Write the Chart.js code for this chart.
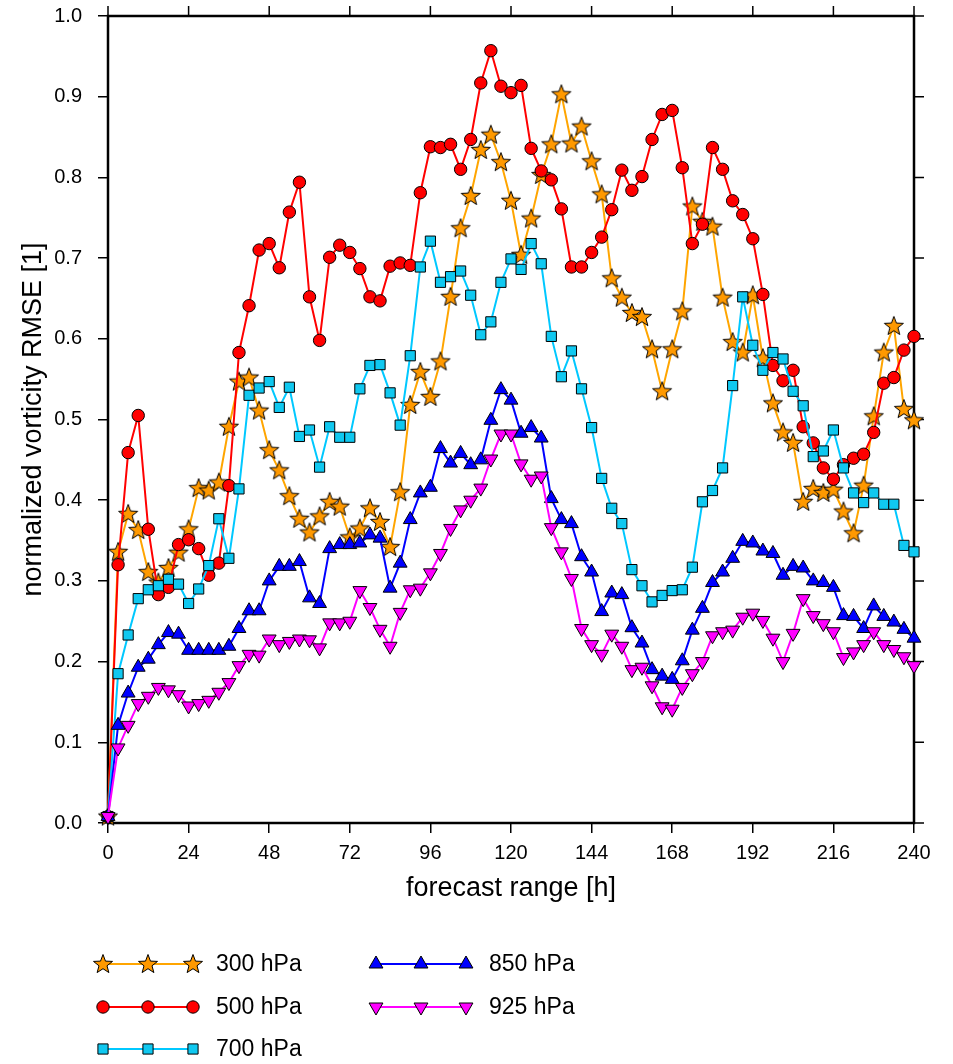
<!DOCTYPE html>
<html><head><meta charset="utf-8">
<script src="https://cdn.jsdelivr.net/npm/chart.js@4.4.1/dist/chart.umd.min.js"></script>
<style>html,body{margin:0;padding:0;background:#fff}#wrap{width:953px;height:1064px;position:relative}</style>
</head><body><div id="wrap"><canvas id="c" width="953" height="1064"></canvas></div>
<script>
const hours = [0,3,6,9,12,15,18,21,24,27,30,33,36,39,42,45,48,51,54,57,60,63,66,69,72,75,78,81,84,87,90,93,96,99,102,105,108,111,114,117,120,123,126,129,132,135,138,141,144,147,150,153,156,159,162,165,168,171,174,177,180,183,186,189,192,195,198,201,204,207,210,213,216,219,222,225,228,231,234,237,240];
const xTickValues = [0,24,48,72,96,120,144,168,192,216,240];
const yTickLabels = ['0.0','0.1','0.2','0.3','0.4','0.5','0.6','0.7','0.8','0.9','1.0'];
const seriesNames = ['300 hPa','500 hPa','700 hPa','850 hPa','925 hPa'];

const v300 = [0.008,0.336,0.383,0.363,0.311,0.298,0.316,0.335,0.364,0.415,0.412,0.422,0.491,0.547,0.552,0.511,0.462,0.437,0.405,0.377,0.360,0.380,0.398,0.392,0.354,0.365,0.390,0.373,0.342,0.410,0.518,0.559,0.528,0.572,0.652,0.737,0.777,0.834,0.853,0.819,0.771,0.704,0.749,0.803,0.841,0.903,0.842,0.863,0.820,0.779,0.675,0.651,0.632,0.627,0.587,0.535,0.587,0.634,0.764,0.745,0.739,0.651,0.596,0.583,0.654,0.576,0.520,0.484,0.471,0.398,0.414,0.409,0.413,0.386,0.359,0.418,0.504,0.583,0.616,0.513,0.499];
const v500 = [0.008,0.320,0.459,0.505,0.364,0.283,0.292,0.345,0.351,0.340,0.307,0.322,0.418,0.583,0.641,0.710,0.718,0.688,0.757,0.794,0.652,0.598,0.701,0.716,0.707,0.687,0.652,0.647,0.690,0.694,0.691,0.781,0.838,0.837,0.841,0.810,0.847,0.917,0.957,0.913,0.905,0.914,0.836,0.808,0.797,0.761,0.689,0.689,0.707,0.726,0.760,0.809,0.784,0.801,0.847,0.878,0.883,0.812,0.718,0.742,0.837,0.810,0.771,0.754,0.724,0.655,0.567,0.548,0.561,0.491,0.471,0.440,0.426,0.444,0.452,0.457,0.484,0.545,0.552,0.586,0.603];
const v700 = [0.008,0.185,0.233,0.278,0.289,0.294,0.302,0.296,0.272,0.290,0.319,0.377,0.328,0.414,0.530,0.539,0.547,0.515,0.540,0.479,0.487,0.441,0.491,0.478,0.478,0.538,0.567,0.568,0.533,0.493,0.579,0.689,0.721,0.670,0.677,0.684,0.654,0.605,0.621,0.670,0.699,0.686,0.718,0.693,0.603,0.553,0.585,0.538,0.490,0.427,0.390,0.371,0.314,0.294,0.274,0.282,0.288,0.289,0.317,0.398,0.412,0.440,0.542,0.652,0.592,0.561,0.583,0.575,0.535,0.517,0.454,0.461,0.487,0.440,0.409,0.397,0.409,0.395,0.395,0.344,0.336];
const v850 = [0.008,0.121,0.161,0.193,0.203,0.221,0.236,0.234,0.214,0.214,0.214,0.214,0.219,0.241,0.263,0.263,0.300,0.318,0.318,0.324,0.279,0.272,0.340,0.345,0.345,0.347,0.357,0.353,0.291,0.322,0.376,0.409,0.416,0.464,0.446,0.458,0.444,0.450,0.499,0.537,0.524,0.483,0.490,0.477,0.402,0.376,0.371,0.330,0.311,0.262,0.285,0.283,0.242,0.223,0.190,0.182,0.178,0.201,0.239,0.266,0.298,0.311,0.328,0.349,0.347,0.337,0.334,0.307,0.318,0.316,0.300,0.298,0.292,0.257,0.256,0.241,0.269,0.256,0.249,0.240,0.229];
const v925 = [0.008,0.093,0.121,0.148,0.157,0.168,0.165,0.159,0.145,0.148,0.152,0.162,0.174,0.195,0.209,0.208,0.228,0.221,0.225,0.228,0.227,0.217,0.248,0.248,0.250,0.288,0.267,0.240,0.219,0.261,0.289,0.291,0.310,0.334,0.365,0.388,0.400,0.415,0.451,0.482,0.482,0.445,0.426,0.430,0.366,0.336,0.303,0.241,0.221,0.209,0.234,0.219,0.190,0.193,0.170,0.144,0.141,0.168,0.185,0.200,0.232,0.237,0.239,0.255,0.260,0.251,0.229,0.200,0.235,0.278,0.257,0.247,0.237,0.205,0.212,0.221,0.237,0.221,0.215,0.206,0.195];

const FONT = "'Liberation Sans', Arial, Helvetica, sans-serif";

function makeStar(R, fill) {
  const size = Math.ceil(2 * R + 4);
  const c = document.createElement('canvas');
  c.width = size; c.height = size;
  const g = c.getContext('2d');
  const cx = size / 2, cy = size / 2 + R * 0.05;
  g.beginPath();
  for (let k = 0; k < 10; k++) {
    const r = (k % 2) ? R * 0.42 : R;
    const a = -Math.PI / 2 + k * Math.PI / 5;
    g.lineTo(cx + r * Math.cos(a), cy + r * Math.sin(a));
  }
  g.closePath();
  g.fillStyle = fill; g.fill();
  g.lineWidth = 1; g.strokeStyle = '#000'; g.stroke();
  return c;
}
const starImg = makeStar(10, '#FF9900');

const pts = arr => hours.map((h, i) => ({x: h, y: arr[i]}));

function ds(label, arr, line, fill, style, radius, rot, order) {
  return {
    label, data: pts(arr), borderColor: line, backgroundColor: fill,
    borderWidth: 2, pointStyle: style, pointRadius: radius, pointRotation: rot,
    pointBackgroundColor: fill, pointBorderColor: '#000', pointBorderWidth: 1,
    tension: 0, clip: false, order
  };
}

const datasets = [
  ds(seriesNames[0], v300, '#FFA500', '#FF9900', starImg, 9, 0, 5),
  ds(seriesNames[1], v500, '#FF0000', '#FF0000', 'circle', 6.2, 0, 4),
  ds(seriesNames[2], v700, '#00C8FF', '#10C8F0', 'rect', 7.2, 0, 3),
  ds(seriesNames[3], v850, '#0000FF', '#0000FF', 'triangle', 8, 0, 2),
  ds(seriesNames[4], v925, '#FF00FF', '#FF00FF', 'triangle', 8, 180, 1)
];

const framePlugin = {
  id: 'frame',
  beforeDatasetsDraw(chart) {
    const {ctx, chartArea: a, scales} = chart;
    ctx.save();
    ctx.strokeStyle = '#000';
    ctx.lineWidth = 1.5;
    ctx.beginPath();
    xTickValues.forEach(v => {
      const x = scales.x.getPixelForValue(v);
      ctx.moveTo(x, a.top); ctx.lineTo(x, a.top - 10);
    });
    yTickLabels.forEach(t => {
      const y = scales.y.getPixelForValue(parseFloat(t));
      ctx.moveTo(a.right, y); ctx.lineTo(a.right + 10, y);
    });
    ctx.stroke();
    ctx.lineWidth = 2.5;
    ctx.strokeRect(a.left, a.top, a.right - a.left, a.bottom - a.top);
    ctx.restore();
  }
};

function drawMarker(ctx, d, x, y) {
  ctx.fillStyle = d.pointBackgroundColor;
  ctx.strokeStyle = '#000';
  ctx.lineWidth = 1;
  Chart.helpers.drawPoint(ctx, {pointStyle: d.pointStyle, radius: d.pointRadius, rotation: d.pointRotation || 0, borderWidth: 1}, x, y);
}

const legendPlugin = {
  id: 'customLegend',
  afterDraw(chart) {
    const ctx = chart.ctx;
    const entries = [
      {ds: 0, x: 103, y: 964}, {ds: 1, x: 103, y: 1007}, {ds: 2, x: 103, y: 1049},
      {ds: 3, x: 376, y: 964}, {ds: 4, x: 376, y: 1007}
    ];
    entries.forEach(e => {
      const d = chart.data.datasets[e.ds];
      ctx.save();
      ctx.strokeStyle = d.borderColor; ctx.lineWidth = 2;
      ctx.beginPath(); ctx.moveTo(e.x, e.y); ctx.lineTo(e.x + 90, e.y); ctx.stroke();
      [0, 45, 90].forEach(dx => drawMarker(ctx, d, e.x + dx, e.y));
      ctx.fillStyle = '#000';
      ctx.font = '23px ' + FONT;
      ctx.textBaseline = 'middle'; ctx.textAlign = 'left';
      ctx.fillText(seriesNames[e.ds], e.x + 113, e.y + 1);
      ctx.restore();
    });
  }
};

new Chart(document.getElementById('c'), {
  type: 'line',
  data: {datasets},
  plugins: [framePlugin, legendPlugin],
  options: {
    responsive: false, animation: false, devicePixelRatio: 1,
    layout: {autoPadding: false, padding: {left: 0, top: 16, right: 39, bottom: 154.8}},
    plugins: {legend: {display: false}, tooltip: {enabled: false}},
    scales: {
      x: {
        type: 'linear', min: 0, max: 240,
        afterBuildTicks: s => { s.ticks = xTickValues.map(v => ({value: v})); },
        ticks: {autoSkip: false, maxRotation: 0, color: '#000', font: {family: FONT, size: 20}, padding: 8},
        grid: {drawOnChartArea: false, drawTicks: true, tickLength: 10, color: '#000', lineWidth: 1.5},
        border: {display: false},
        title: {display: true, text: 'forecast range [h]', color: '#000', font: {family: FONT, size: 27}, padding: {top: 4, bottom: 4}},
        afterFit: s => { s.height = 86.2; s.paddingLeft = 0; s.paddingRight = 0; }
      },
      y: {
        type: 'linear', min: 0, max: 1,
        afterBuildTicks: s => { s.ticks = yTickLabels.map(t => ({value: parseFloat(t)})); },
        ticks: {autoSkip: false, color: '#000', font: {family: FONT, size: 20}, padding: 16, callback: (v, i) => yTickLabels[i]},
        grid: {drawOnChartArea: false, drawTicks: true, tickLength: 10, color: '#000', lineWidth: 1.5},
        border: {display: false},
        title: {display: true, text: 'normalized vorticity RMSE [1]', color: '#000', font: {family: FONT, size: 27}, padding: {top: 17, bottom: 0}},
        afterFit: s => { s.width = 108; s.paddingTop = 0; s.paddingBottom = 0; }
      }
    }
  }
});
</script>
</body></html>
